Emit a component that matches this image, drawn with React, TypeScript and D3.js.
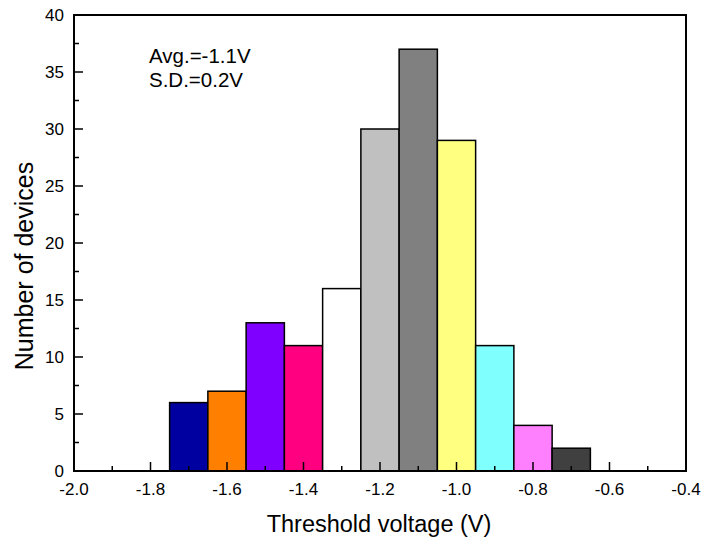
import { useRef, useEffect } from "react";
import { select, scaleLinear, range } from "d3";

const binCenters = [-1.7, -1.6, -1.5, -1.4, -1.3, -1.2, -1.1, -1.0, -0.9, -0.8, -0.7];
const counts = [6, 7, 13, 11, 16, 30, 37, 29, 11, 4, 2];
const barColors = [
  "#0000A0", "#FF8000", "#8000FF", "#FF0080", "#FFFFFF", "#C0C0C0",
  "#808080", "#FFFF80", "#80FFFF", "#FF80FF", "#404040",
];
const xTicks = [-2.0, -1.8, -1.6, -1.4, -1.2, -1.0, -0.8, -0.6, -0.4];
const yTicks = [0, 5, 10, 15, 20, 25, 30, 35, 40];
const binWidth = 0.1;

const W = 705;
const H = 543;
const left = 74;
const right = 686;
const top = 15;
const bottom = 471;
const font = "Arial, 'Liberation Sans', sans-serif";

function App() {
  const svgRef = useRef<SVGSVGElement>(null);

  useEffect(() => {
    const svg = select(svgRef.current);
    svg.selectAll("*").remove();

    const x = scaleLinear().domain([-2.0, -0.4]).range([left, right]);
    const y = scaleLinear().domain([0, 40]).range([bottom, top]);

    // bars
    svg
      .append("g")
      .selectAll("rect")
      .data(counts)
      .join("rect")
      .attr("x", (_, i) => x(binCenters[i] - binWidth / 2))
      .attr("y", (d) => y(d))
      .attr("width", (_, i) => x(binCenters[i] + binWidth / 2) - x(binCenters[i] - binWidth / 2))
      .attr("height", (d) => bottom - y(d))
      .attr("fill", (_, i) => barColors[i])
      .attr("stroke", "#000")
      .attr("stroke-width", 1.5);

    // ticks (inward, left and bottom only)
    const ticks = svg.append("g").attr("stroke", "#000").attr("stroke-width", 1.5);
    range(-2.0, -0.35, 0.1).forEach((v, i) => {
      const len = i % 2 === 0 ? 9 : 5;
      ticks.append("line")
        .attr("x1", x(v)).attr("x2", x(v))
        .attr("y1", bottom).attr("y2", bottom - len);
    });
    range(0, 40.1, 2.5).forEach((v, i) => {
      const len = i % 2 === 0 ? 9 : 5;
      ticks.append("line")
        .attr("x1", left).attr("x2", left + len)
        .attr("y1", y(v)).attr("y2", y(v));
    });

    // frame
    svg.append("rect")
      .attr("x", left).attr("y", top)
      .attr("width", right - left).attr("height", bottom - top)
      .attr("fill", "none").attr("stroke", "#000").attr("stroke-width", 2);

    // tick labels
    svg.append("g")
      .selectAll("text")
      .data(xTicks)
      .join("text")
      .attr("x", (d) => x(d))
      .attr("y", bottom + 24)
      .attr("text-anchor", "middle")
      .attr("font-family", font)
      .attr("font-size", 17)
      .text((d) => d.toFixed(1));

    svg.append("g")
      .selectAll("text")
      .data(yTicks)
      .join("text")
      .attr("x", left - 10)
      .attr("y", (d) => y(d) + 6)
      .attr("text-anchor", "end")
      .attr("font-family", font)
      .attr("font-size", 17)
      .text((d) => d);

    // axis titles
    svg.append("text")
      .attr("x", 379)
      .attr("y", 532)
      .attr("text-anchor", "middle")
      .attr("font-family", font)
      .attr("font-size", 23.5)
      .text("Threshold voltage (V)");

    svg.append("text")
      .attr("transform", `translate(33,266) rotate(-90)`)
      .attr("text-anchor", "middle")
      .attr("font-family", font)
      .attr("font-size", 25)
      .text("Number of devices");

    // annotation
    const note = svg.append("g").attr("font-family", font).attr("font-size", 20.5);
    note.append("text").attr("x", 149).attr("y", 63).text("Avg.=-1.1V");
    note.append("text").attr("x", 149).attr("y", 87).text("S.D.=0.2V");
  }, []);

  return (
    <svg
      ref={svgRef}
      width={W}
      height={H}
      style={{ position: "absolute", left: 0, top: 0, background: "#fff" }}
    />
  );
}

export default App;
